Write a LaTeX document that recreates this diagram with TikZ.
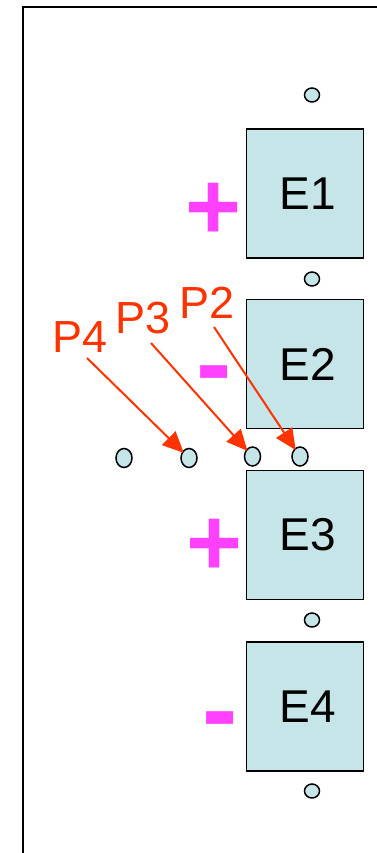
\documentclass[tikz,border=0pt]{standalone}
\usepackage{fontspec}
\setmainfont{Liberation Sans}
\usetikzlibrary{arrows.meta,shapes.geometric}
\definecolor{boxfill}{HTML}{C5E5E8}
\definecolor{sign}{HTML}{FF40FF}
\definecolor{lbl}{HTML}{FF3300}
\tikzset{
  elec/.style={draw=black, line width=1.6pt, fill=boxfill, minimum width=117pt, minimum height=129pt, inner sep=0pt, font=\fontsize{46}{46}\selectfont},
  dot/.style={draw=black, line width=1.5pt, fill=boxfill, ellipse, minimum width=15pt, minimum height=14pt, inner sep=0pt},
  rdot/.style={draw=black, line width=1.5pt, fill=boxfill, ellipse, minimum width=16pt, minimum height=19pt, inner sep=0pt},
  plustxt/.style={text=sign, inner sep=0pt, font=\fontsize{96}{96}\selectfont\bfseries},
  minustxt/.style={text=sign, inner sep=0pt, font=\fontsize{106}{106}\selectfont\bfseries},
  plabel/.style={text=lbl, inner sep=0pt, anchor=base, font=\fontsize{45}{45}\selectfont},
  parrow/.style={draw=lbl, line width=2pt, -{Triangle[length=21pt,width=19pt]}, shorten >=-2pt},
}
\begin{document}
\begin{tikzpicture}[x=1pt,y=-1pt]
\useasboundingbox (0,0) rectangle (377,853);
\draw[line width=2pt] (23,856) -- (23,7) -- (380,7);
% electrodes
\node[elec] (E1) at (305,193.5) {\hspace*{5pt}E1};
\node[elec] (E2) at (305,364) {\hspace*{5pt}E2};
\node[elec] (E3) at (305,535) {\hspace*{5pt}E3};
\node[elec] (E4) at (305,706.5) {\hspace*{5pt}E4};
% small dots
\node[dot] (d0) at (312,95) {};
\node[dot] (d1) at (312,279) {};
\node[dot] (d3) at (312,620) {};
\node[dot] (d4) at (312,791) {};
% row dots
\node[rdot] (c1) at (124,458) {};
\node[rdot] (c2) at (189,458) {};
\node[rdot] (c3) at (252.5,456.5) {};
\node[rdot] (c4) at (300,456.5) {};
% signs
\node[plustxt] (s1) at (214,211) {+};
\node[minustxt] (s2) at (214,382.5) {-};
\node[plustxt] (s3) at (215,547) {+};
\node[minustxt] (s4) at (220,728.5) {-};
% labels
\node[plabel] (P4) at (80,352) {P4};
\node[plabel] (P3) at (143.5,333) {P3};
\node[plabel] (P2) at (207,318) {P2};
\coordinate (a4) at (87,358);
\coordinate (a3) at (151,343);
\coordinate (a2) at (214,327);
\draw[parrow] (a4) -- (c2);
\draw[parrow] (a3) -- (c3);
\draw[parrow] (a2) -- (c4);
\end{tikzpicture}
\end{document}
